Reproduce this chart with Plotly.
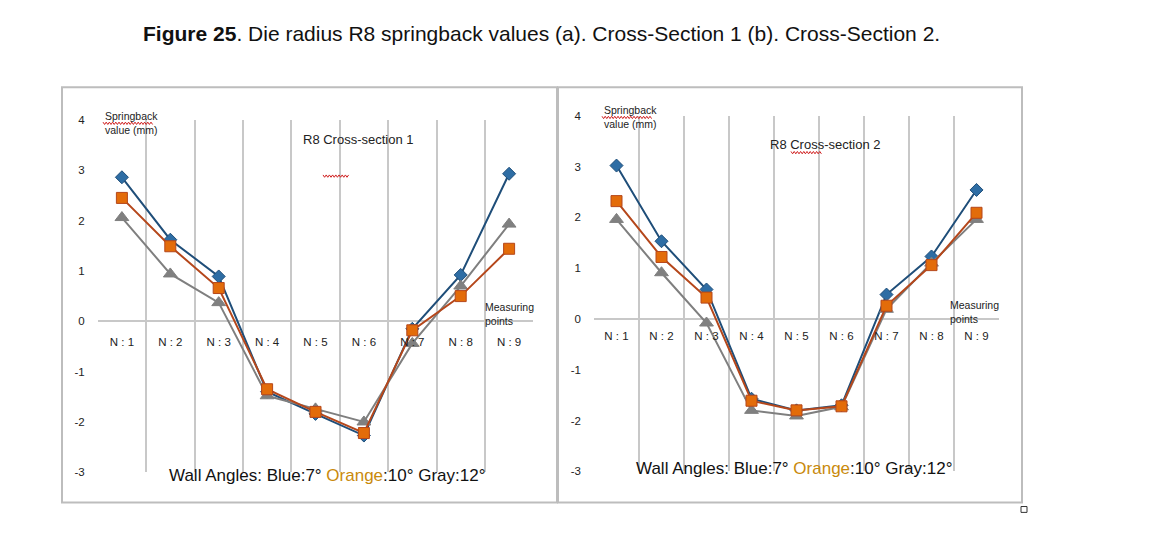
import plotly.graph_objects as go

W, H = 1161, 535

categories = ["N : 1", "N : 2", "N : 3", "N : 4", "N : 5", "N : 6", "N : 7", "N : 8", "N : 9"]
y_ticks = [-3, -2, -1, 0, 1, 2, 3, 4]

# Cross-section 1
cs1_blue = [2.86, 1.62, 0.89, -1.40, -1.84, -2.27, -0.15, 0.92, 2.93]
cs1_orange = [2.45, 1.49, 0.66, -1.35, -1.80, -2.22, -0.18, 0.50, 1.44]
cs1_gray = [2.06, 0.94, 0.37, -1.48, -1.74, -2.00, -0.44, 0.70, 1.93]

# Cross-section 2
cs2_blue = [3.02, 1.53, 0.58, -1.57, -1.80, -1.70, 0.48, 1.23, 2.54]
cs2_orange = [2.32, 1.22, 0.42, -1.61, -1.80, -1.72, 0.26, 1.06, 2.09]
cs2_gray = [1.96, 0.91, -0.08, -1.80, -1.91, -1.73, 0.19, 1.10, 1.96]

panel_titles = ["R8 Cross-section 1", "R8 Cross-section 2"]


def px(x):
    return x / W


def py(y):
    return 1 - y / H


FONT = "Liberation Sans, Arial"
BLUE_LINE, BLUE_MK = "#1F4E79", "#2E6DA4"
OR_LINE, OR_MK = "#B5471B", "#E36C0A"
GR_LINE, GR_MK = "#7F7F7F", "#808080"

xidx = list(range(len(categories)))

fig = go.Figure()

panels = [
    dict(data=(cs1_blue, cs1_orange, cs1_gray), xd=(px(97.7), px(533.3)), yd=(py(477), py(116.5)),
         xa="x", ya="y", box=(62, 83, 557, 508)),
    dict(data=(cs2_blue, cs2_orange, cs2_gray), xd=(px(594), px(999)), yd=(py(476), py(112.3)),
         xa="x2", ya="y2", box=(558, 83, 1022, 508)),
]

for i, p in enumerate(panels):
    b, o, g = p["data"]
    for vals, lc, mc, sym, size in [
        (b, BLUE_LINE, BLUE_MK, "diamond", 10),
        (g, GR_LINE, GR_MK, "triangle-up", 12),
        (o, OR_LINE, OR_MK, "square", 11),
    ]:
        fig.add_trace(go.Scatter(
            x=xidx, y=vals, mode="lines+markers", xaxis=p["xa"], yaxis=p["ya"],
            line=dict(color=lc, width=2),
            marker=dict(symbol=sym, size=size, color=mc, line=dict(color=lc, width=1)),
            showlegend=False, hoverinfo="skip"))

axis_common_x = dict(
    range=[-0.5, 8.5], tickmode="array", tickvals=xidx, ticktext=categories,
    showgrid=False, zeroline=False, showline=False, ticks="",
    tickfont=dict(family=FONT, size=11.5, color="#222"), fixedrange=True,
    minor=dict(tickmode="array", tickvals=[k - 0.5 for k in range(len(categories) + 1)],
               showgrid=True, gridcolor="#C8C8C8", gridwidth=2),
)
axis_common_y = dict(
    range=[-3, 4], tickmode="array", tickvals=y_ticks, ticktext=[str(v) for v in y_ticks],
    showgrid=False,
    zeroline=True, zerolinecolor="#C8C8C8", zerolinewidth=2, showline=False, ticks="",
    tickfont=dict(family=FONT, size=11.5, color="#222"), ticklabelstandoff=12, fixedrange=True,
)


def zero_pos(yd):
    return yd[0] + (yd[1] - yd[0]) * 3 / 7


fig.update_layout(
    xaxis=dict(domain=panels[0]["xd"], anchor="free", position=zero_pos(panels[0]["yd"]) - 0.024,
               **axis_common_x),
    yaxis=dict(domain=panels[0]["yd"], anchor="x", **axis_common_y),
    xaxis2=dict(domain=panels[1]["xd"], anchor="free", position=zero_pos(panels[1]["yd"]) - 0.017,
                **axis_common_x),
    yaxis2=dict(domain=panels[1]["yd"], anchor="x2", **axis_common_y),
)

shapes = []
for p in panels:
    x0, y0, x1, y1 = p["box"]
    shapes.append(dict(type="rect", xref="paper", yref="paper", x0=px(x0), x1=px(x1),
                       y0=py(y1), y1=py(y0), line=dict(color="#BDBDBD", width=2)))
shapes.append(dict(type="rect", xref="paper", yref="paper", x0=px(1021), x1=px(1027),
                   y0=py(518), y1=py(512), line=dict(color="#333", width=1)))


def wavy(xa, xb, y):
    pts = []
    x = xa
    k = 0
    while x <= xb:
        yy = y + (1.2 if k % 2 else -1.2)
        pts.append(f"{px(x):.5f},{py(yy):.5f}")
        x += 1.6
        k += 1
    return "M " + " L ".join(pts)


for xa, xb, y in [(103, 153, 120), (602, 652, 114), (323, 350, 174), (791, 822, 150)]:
    shapes.append(dict(type="path", xref="paper", yref="paper", path=wavy(xa, xb, y),
                       line=dict(color="#D02020", width=1)))

annotations = [
    dict(text="<b>Figure 25</b>. Die radius R8 springback values (a). Cross-Section 1 (b). Cross-Section 2.",
         x=px(541), y=py(28), xref="paper", yref="paper", showarrow=False,
         font=dict(family="Liberation Sans, Arial", size=21, color="#111"), xanchor="center", yanchor="middle"),
]
wall_text = ("Wall Angles: Blue:7° <span style='color:#C98A0B'>Orange</span>:10° Gray:12°")
for p, title, sb, ttl, mp, wa in [
    (panels[0], panel_titles[0], (103, 104), (358, 137), (483, 315), (327, 480)),
    (panels[1], panel_titles[1], (602, 98), (825, 142), (948, 313), (794, 473)),
]:
    annotations += [
        dict(text="Springback<br>value (mm)", x=px(sb[0]), y=py(sb[1]), xref="paper", yref="paper",
             showarrow=False, xanchor="left", yanchor="top", align="left",
             font=dict(family=FONT, size=10.5, color="#222")),
        dict(text=title, x=px(ttl[0]), y=py(ttl[1]), xref="paper", yref="paper", showarrow=False,
             xanchor="center", yanchor="middle", font=dict(family=FONT, size=13, color="#222")),
        dict(text="Measuring<br>points", x=px(mp[0]), y=py(mp[1]), xref="paper", yref="paper",
             showarrow=False, xanchor="left", yanchor="middle", align="left",
             font=dict(family=FONT, size=10.5, color="#222")),
        dict(text=wall_text, x=px(wa[0]), y=py(wa[1]), xref="paper", yref="paper", showarrow=False,
             xanchor="center", yanchor="middle", font=dict(family=FONT, size=17, color="#111")),
    ]

fig.update_layout(
    width=W, height=H, margin=dict(l=0, r=0, t=0, b=0),
    paper_bgcolor="white", plot_bgcolor="white",
    shapes=shapes, annotations=annotations, showlegend=False,
)

fig.write_html("out.html", config={"displayModeBar": False},
               post_script="document.body.style.margin='0px';document.body.style.padding='0px';"
                           "document.body.style.overflow='hidden';")
